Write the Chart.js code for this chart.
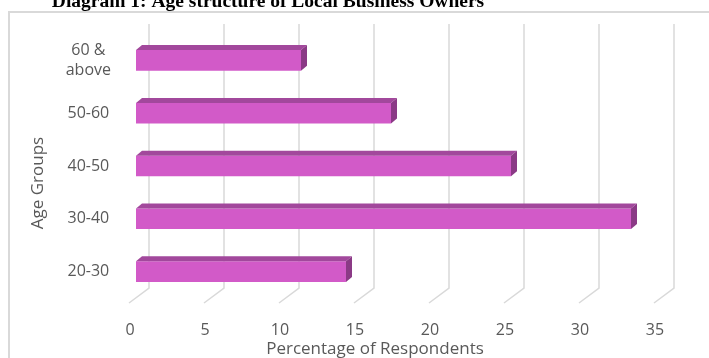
<!DOCTYPE html>
<html>
<head>
<meta charset="utf-8">
<script src="https://cdn.jsdelivr.net/npm/chart.js@4.4.1/dist/chart.umd.min.js"></script>
<style>
  html, body { margin: 0; padding: 0; background: #fff; }
  #wrap { position: relative; width: 709px; height: 358px; }
</style>
</head>
<body>
<div id="wrap"><canvas id="ageChart" width="709" height="358"></canvas></div>
<script>
// age groups, bottom to top like the sheet, shown top to bottom here
const ageGroups = [["60 &", "above"], "50-60", "40-50", "30-40", "20-30"];
const respondents = [11, 17, 25, 33, 14];
const xTicks = [0, 5, 10, 15, 20, 25, 30, 35];

const frontColor = "#d25ac8";
const topColor = "#a2489c";
const sideColor = "#8b3a86";
const gridColor = "#d9d9d9";
const textColor = "#595959";
const labelFont = "'Open Sans', 'Noto Sans', sans-serif";

// depth of the 3d box: back wall and floor front edge, relative to scale x
const wallDx = 13, wallTop = 24, wallBottom = 288;
const floorDx = -7, floorBottom = 303;
// bar depth
const barDx = 6, barDy = 5;

const frame = {
  id: "frame",
  beforeDraw(chart) {
    const ctx = chart.ctx;
    const xs = chart.scales.x;
    ctx.save();
    // outer border of the chart area
    ctx.strokeStyle = gridColor;
    ctx.lineWidth = 2;
    ctx.strokeRect(9, 12, 720, 360);
    // back wall gridlines with floor edge
    ctx.lineWidth = 1.5;
    xTicks.forEach((t) => {
      const px = xs.getPixelForValue(t);
      ctx.beginPath();
      ctx.moveTo(px + wallDx, wallTop);
      ctx.lineTo(px + wallDx, wallBottom);
      ctx.lineTo(px + floorDx, floorBottom);
      ctx.stroke();
    });
    ctx.restore();
  },
  afterDatasetsDraw(chart) {
    const ctx = chart.ctx;
    const meta = chart.getDatasetMeta(0);
    ctx.save();
    meta.data.forEach((bar) => {
      const p = bar.getProps(["x", "y", "base", "height"], true);
      const x0 = p.base, x1 = p.x;
      const yt = p.y - p.height / 2, yb = p.y + p.height / 2;
      // top face
      ctx.fillStyle = topColor;
      ctx.beginPath();
      ctx.moveTo(x0, yt);
      ctx.lineTo(x0 + barDx, yt - barDy);
      ctx.lineTo(x1 + barDx, yt - barDy);
      ctx.lineTo(x1, yt);
      ctx.closePath();
      ctx.fill();
      // end face
      ctx.fillStyle = sideColor;
      ctx.beginPath();
      ctx.moveTo(x1, yt);
      ctx.lineTo(x1 + barDx, yt - barDy);
      ctx.lineTo(x1 + barDx, yb - barDy);
      ctx.lineTo(x1, yb);
      ctx.closePath();
      ctx.fill();
    });
    ctx.restore();
  },
  afterDraw(chart) {
    const ctx = chart.ctx;
    ctx.save();
    ctx.fillStyle = "#000";
    ctx.font = "bold 19.5px 'Liberation Serif', 'Times New Roman', serif";
    ctx.textAlign = "center";
    ctx.textBaseline = "alphabetic";
    ctx.fillText("Diagram 1: Age structure of Local Business Owners", 268, 7);

    ctx.fillStyle = textColor;
    ctx.font = "17px " + labelFont;
    ctx.textBaseline = "middle";
    ctx.fillText("Percentage of Respondents", 375, 349);
    ctx.translate(38, 183);
    ctx.rotate(-Math.PI / 2);
    ctx.fillText("Age Groups", 0, 0);
    ctx.restore();
  },
};

const ageCanvas = document.getElementById("ageChart").getContext("2d");
const ageChart = new Chart(ageCanvas, {
  type: "bar",
  data: {
    labels: ageGroups,
    datasets: [
      {
        data: respondents,
        backgroundColor: frontColor,
        borderWidth: 0,
        categoryPercentage: 1,
        barPercentage: 0.39,
      },
    ],
  },
  options: {
    indexAxis: "y",
    responsive: false,
    animation: false,
    layout: { padding: { left: 30, top: 34, right: 48, bottom: 0 } },
    plugins: {
      legend: { display: false },
      tooltip: { enabled: false },
    },
    scales: {
      x: {
        min: 0,
        max: 35,
        afterFit(scale) { scale.height = 60; },
        afterBuildTicks(scale) { scale.ticks = xTicks.map((v) => ({ value: v })); },
        grid: { display: false },
        border: { display: false },
        ticks: {
          color: textColor,
          font: { family: labelFont, size: 16 },
          padding: 15,
          labelOffset: -6,
        },
      },
      y: {
        afterFit(scale) { scale.width = 106; },
        grid: { display: false },
        border: { display: false },
        ticks: {
          color: textColor,
          font: { family: labelFont, size: 16, lineHeight: 1.3 },
          padding: 17,
          crossAlign: "center",
        },
      },
    },
  },
  plugins: [frame],
});
</script>
</body>
</html>
